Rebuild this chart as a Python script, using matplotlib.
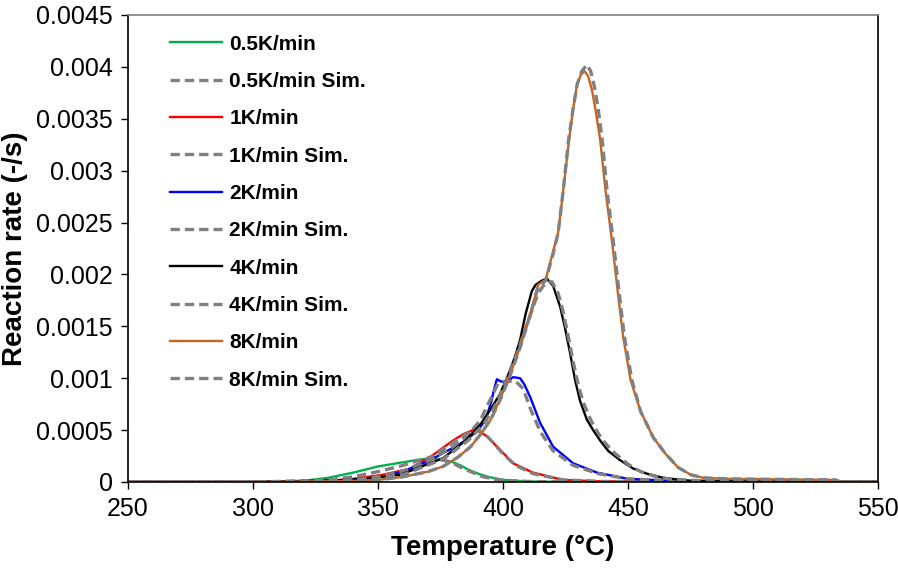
"""Reaction rate vs temperature: measured curves against simulation for five heating rates."""

import matplotlib

matplotlib.use("Agg")
import matplotlib.pyplot as plt

plt.rcParams["font.family"] = ["Liberation Sans", "DejaVu Sans"]

# 0.5 K/min
t_05 = [250, 300, 320, 330, 340, 345, 350, 355, 360, 365, 368, 371, 374, 377, 380, 383, 386, 390, 394, 400, 410, 430, 535, 550]
r_05 = [0, 0, 0.00001, 0.00004, 0.00009, 0.00012, 0.00015, 0.00017, 0.00019, 0.00021, 0.00022, 0.000225, 0.00022,
        0.00021, 0.00019, 0.00016, 0.00012, 0.00008, 0.00005, 0.00002, 0.000005, 0, 0, 0]
t_05_sim = [250, 300, 320, 330, 340, 350, 360, 365, 370, 373, 376, 380, 384, 388, 392, 398, 410, 430, 535, 550]
r_05_sim = [0, 0, 0.000005, 0.00002, 0.00005, 0.0001, 0.00016, 0.0002, 0.00023, 0.00023, 0.00021, 0.00018, 0.00013,
            0.00009, 0.00005, 0.00002, 0.000005, 0, 0, 0]

# 1 K/min
t_1 = [250, 300, 330, 340, 352, 363, 372, 380, 384, 388, 390.5, 393.5, 398.8, 404, 412, 424, 440, 535, 550]
r_1 = [0, 0, 0.00001, 0.00003, 0.00007, 0.00013, 0.00026, 0.0004, 0.00046, 0.0005, 0.00049, 0.00044, 0.00031,
       0.00018, 0.00009, 0.00002, 0.000005, 0, 0]
t_1_sim = [250, 300, 330, 340, 352, 362, 372, 380, 385, 389, 392, 396, 400, 405, 412, 424, 440, 535, 550]
r_1_sim = [0, 0, 0.000005, 0.00002, 0.00006, 0.00012, 0.00025, 0.00038, 0.00046, 0.0005, 0.00048, 0.00038, 0.00027,
           0.00016, 0.00008, 0.00002, 0.000005, 0, 0]

# 2 K/min
t_2 = [250, 300, 330, 350, 360, 370, 380, 385, 390, 393, 395, 396.5, 397.5, 399, 401, 404, 406.8, 408.5, 410.8, 414.8,
       420, 428, 437.6, 450, 470, 535, 550]
r_2 = [0, 0, 0.00001, 0.00004, 0.0001, 0.0002, 0.00033, 0.0004, 0.0005, 0.0006, 0.00075, 0.0009, 0.00099, 0.00097,
       0.00096, 0.00101, 0.001, 0.00094, 0.00082, 0.00057, 0.00034, 0.00018, 0.00009, 0.00003, 0.00001, 0, 0]
t_2_sim = [250, 300, 330, 350, 360, 370, 380, 386, 391, 395, 398, 401, 405, 408, 411, 415, 420, 428, 438, 450, 470, 535, 550]
r_2_sim = [0, 0, 0.00001, 0.00004, 0.0001, 0.0002, 0.00034, 0.00045, 0.0006, 0.0008, 0.00095, 0.00097, 0.00097, 0.0009,
           0.0007, 0.00048, 0.0003, 0.00016, 0.00008, 0.00003, 0.00001, 0, 0]

# 4 K/min
t_4 = [250, 300, 320, 339, 359, 376, 385, 390.8, 395, 398.8, 402, 404.8, 406.8, 409, 411.5, 413, 415.5, 417.5, 420,
       422.8, 424.8, 426.8, 428.8, 430.8, 433.5, 436, 438.8, 442, 446.8, 452, 457.5, 464, 475, 530, 550]
r_4 = [0, 0, 0.00001, 0.00002, 0.00007, 0.00023, 0.0004, 0.00055, 0.0007, 0.00085, 0.00103, 0.00121, 0.00137, 0.00162,
       0.00184, 0.0019, 0.00194, 0.00196, 0.00189, 0.00169, 0.00148, 0.00124, 0.00098, 0.00078, 0.0006, 0.0005,
       0.0004, 0.0003, 0.00021, 0.00013, 0.00008, 0.00004, 0.00001, 0, 0]
t_4_sim = [250, 300, 320, 340, 360, 376, 386, 392, 396, 400, 405, 410, 414, 417, 419.5, 422, 424, 426, 428, 430, 432,
           435, 438, 441, 445, 450, 455, 460, 466, 480, 530, 550]
r_4_sim = [0, 0, 0.00001, 0.00002, 0.00007, 0.00022, 0.0004, 0.00055, 0.0007, 0.0009, 0.0012, 0.00155, 0.00182,
           0.00192, 0.00193, 0.00182, 0.00164, 0.00141, 0.00116, 0.00094, 0.00077, 0.0006, 0.00047, 0.00037, 0.00027,
           0.00017, 0.0001, 0.00006, 0.00003, 0.00001, 0, 0]

# 8 K/min
t_8 = [250, 300, 320, 340, 350, 360, 370, 376, 382, 387, 391, 395, 399, 403, 407, 411, 414, 417, 420, 422, 424, 426.4,
       428, 429.5, 431, 432.5, 434, 435.5, 437, 438.8, 441, 443.5, 446, 448, 451, 455, 460, 465, 470, 475, 480, 490,
       533, 535, 550]
r_8 = [0, 0, 0.000005, 0.00001, 0.00002, 0.00005, 0.0001, 0.00015, 0.00024, 0.00034, 0.00046, 0.0006, 0.00081,
       0.00105, 0.00132, 0.00163, 0.0019, 0.00195, 0.00222, 0.0024, 0.0028, 0.0033, 0.0036, 0.00382, 0.00392, 0.00396,
       0.00391, 0.00378, 0.00358, 0.0033, 0.0028, 0.00233, 0.0018, 0.0014, 0.00098, 0.00068, 0.00043, 0.00027, 0.00014,
       0.00007, 0.00004, 0.00003, 0.00002, 0, 0]
t_8_sim = [250, 300, 320, 340, 350, 360, 370, 376, 382, 387, 391, 395, 399, 403, 407, 411, 414, 417, 420, 422, 424,
           426.2, 428, 429.7, 431.5, 433.5, 435, 436.5, 438, 439.6, 441.6, 444, 446.5, 448.5, 451.5, 455, 460, 465, 470,
           475, 480, 490, 533, 535, 550]
r_8_sim = [0, 0, 0.000005, 0.00001, 0.00002, 0.00005, 0.0001, 0.00015, 0.00024, 0.00034, 0.00046, 0.0006, 0.0008,
           0.00104, 0.00131, 0.00162, 0.00188, 0.00194, 0.0022, 0.0024, 0.0028, 0.0033, 0.0036, 0.00384, 0.00396,
           0.00402, 0.00396, 0.00381, 0.0036, 0.0033, 0.0028, 0.00233, 0.0018, 0.0014, 0.00098, 0.00068, 0.00043,
           0.00027, 0.00014, 0.00007, 0.00004, 0.00003, 0.00002, 0, 0]

labels = ["0.5K/min", "1K/min", "2K/min", "4K/min", "8K/min"]
colors = ["#00B050", "#FF0000", "#0000FF", "#000000", "#C8641E"]
measured = [(t_05, r_05), (t_1, r_1), (t_2, r_2), (t_4, r_4), (t_8, r_8)]
simulated = [(t_05_sim, r_05_sim), (t_1_sim, r_1_sim), (t_2_sim, r_2_sim), (t_4_sim, r_4_sim), (t_8_sim, r_8_sim)]

x_ticks = [250, 300, 350, 400, 450, 500, 550]
y_ticks = [0, 0.0005, 0.001, 0.0015, 0.002, 0.0025, 0.003, 0.0035, 0.004, 0.0045]
y_tick_labels = ["0", "0.0005", "0.001", "0.0015", "0.002", "0.0025", "0.003", "0.0035", "0.004", "0.0045"]

fig = plt.figure(figsize=(8.98, 5.70), dpi=100)
ax = fig.add_axes([0.1425, 0.1544, 0.8355, 0.8193])

for label, color, (tm, rm), (ts, rs) in zip(labels, colors, measured, simulated):
    ax.plot(tm, rm, color=color, linewidth=1.7, label=label)
    ax.plot(ts, rs, color="#808080", linewidth=2.4, linestyle=(0, (2.8, 1.5)), label=f"{label} Sim.")

ax.set_xlim(250, 550)
ax.set_ylim(0, 0.0045)
ax.set_xticks(x_ticks)
ax.set_yticks(y_ticks)
ax.set_yticklabels(y_tick_labels)
ax.tick_params(direction="out", length=5, width=1, labelsize=18, pad=6)
ax.set_xlabel("Temperature (°C)", fontsize=20, fontweight="bold", labelpad=10)
ax.set_ylabel("Reaction rate (-/s)", fontsize=20, fontweight="bold", labelpad=6)

for side in ("left", "bottom", "right"):
    ax.spines[side].set_color("black")
    ax.spines[side].set_linewidth(1.2)
ax.spines["top"].set_color("#808080")
ax.spines["top"].set_linewidth(1.2)

ax.legend(loc="upper left", bbox_to_anchor=(0.056, 0.958), frameon=False, prop={"size": 15, "weight": "bold"},
          handlelength=2.5, handletextpad=0.35, labelspacing=0.88, borderpad=0, borderaxespad=0)

fig.savefig("out.png", dpi=100)
